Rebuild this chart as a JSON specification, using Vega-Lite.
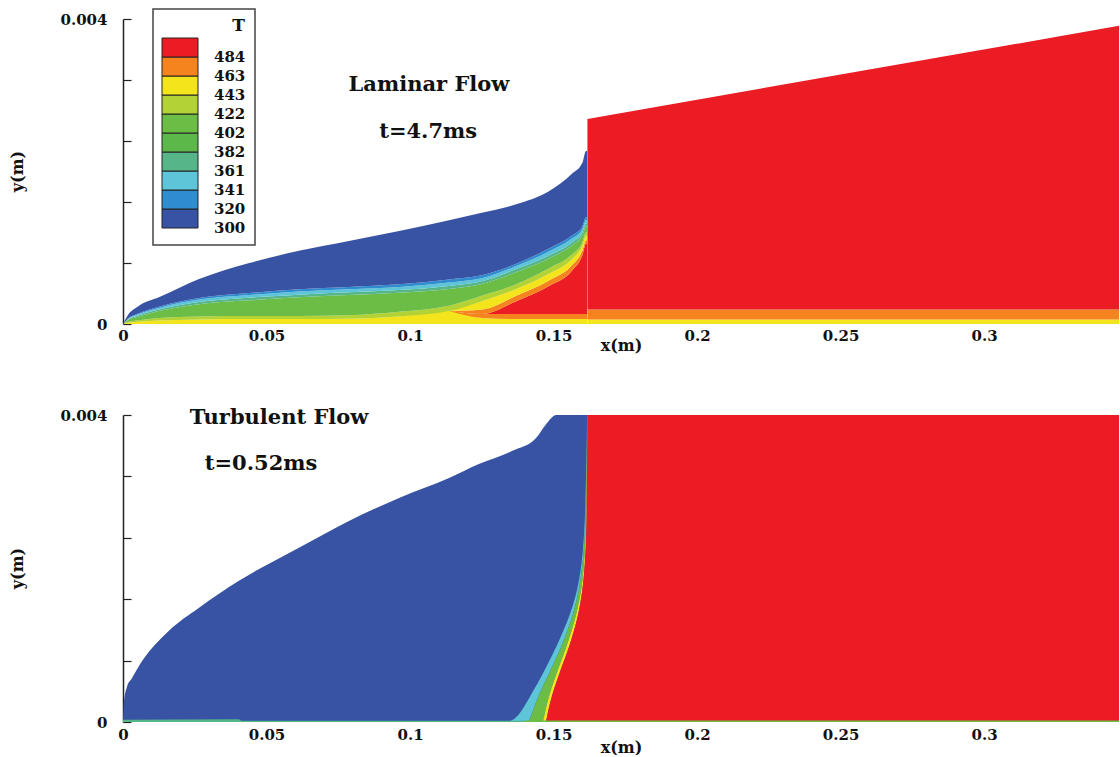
{
"$schema": "https://vega.github.io/schema/vega-lite/v6.json",
"background": "white",
"padding": {"left": 9, "top": 8, "right": 0, "bottom": 0},
"bounds": "flush",
"spacing": 91,
"config": {
  "view": {"stroke": null},
  "font": "DejaVu Serif",
  "axis": {"grid": false, "labelColor": "#111", "titleColor": "#111", "labelFont": "DejaVu Serif", "titleFont": "DejaVu Serif", "labelFontWeight": "bold", "titleFontWeight": "bold"},
  "legend": {"strokeWidth": 1.5}
},
"resolve": {"scale": {"color": "independent"}, "legend": {"color": "independent"}},
"datasets": {
"top": [
{"b":"wy","T":450,"x":0,"lo":0,"hi":0},
{"b":"wy","T":450,"x":0.0014,"lo":0,"hi":0.000015},
{"b":"wy","T":450,"x":0.0056,"lo":0,"hi":0.00003},
{"b":"wy","T":450,"x":0.0125,"lo":0,"hi":0.000045},
{"b":"wy","T":450,"x":0.0265,"lo":0,"hi":0.00006},
{"b":"wy","T":450,"x":0.044,"lo":0,"hi":0.000065},
{"b":"wy","T":450,"x":0.0613,"lo":0,"hi":0.000066},
{"b":"wy","T":450,"x":0.0787,"lo":0,"hi":0.00007},
{"b":"wy","T":450,"x":0.0962,"lo":0,"hi":0.0001},
{"b":"wy","T":450,"x":0.1136,"lo":0,"hi":0.00017},
{"b":"wy","T":450,"x":0.125,"lo":0,"hi":0.00008},
{"b":"wy","T":450,"x":0.137,"lo":0,"hi":0.000066},
{"b":"wy","T":450,"x":0.1484,"lo":0,"hi":0.000066},
{"b":"wy","T":450,"x":0.1564,"lo":0,"hi":0.000066},
{"b":"wy","T":450,"x":0.16,"lo":0,"hi":0.000066},
{"b":"wy","T":450,"x":0.1613,"lo":0,"hi":0.000066},
{"b":"wy","T":450,"x":0.1617,"lo":0,"hi":0.000066},
{"b":"wo","T":472,"x":0.1136,"lo":0.00017,"hi":0.00017},
{"b":"wo","T":472,"x":0.125,"lo":0.00008,"hi":0.00013},
{"b":"wo","T":472,"x":0.137,"lo":0.000066,"hi":0.00013},
{"b":"wo","T":472,"x":0.1484,"lo":0.000066,"hi":0.00013},
{"b":"wo","T":472,"x":0.1564,"lo":0.000066,"hi":0.00013},
{"b":"wo","T":472,"x":0.16,"lo":0.000066,"hi":0.00013},
{"b":"wo","T":472,"x":0.1613,"lo":0.000066,"hi":0.00013},
{"b":"wo","T":472,"x":0.1617,"lo":0.000066,"hi":0.00013},
{"b":"rc","T":495,"x":0.1136,"lo":0.00017,"hi":0.00017},
{"b":"rc","T":495,"x":0.125,"lo":0.00013,"hi":0.00013},
{"b":"rc","T":495,"x":0.137,"lo":0.00013,"hi":0.0003},
{"b":"rc","T":495,"x":0.1484,"lo":0.00013,"hi":0.0005},
{"b":"rc","T":495,"x":0.1564,"lo":0.00013,"hi":0.0007},
{"b":"rc","T":495,"x":0.16,"lo":0.00013,"hi":0.0009},
{"b":"rc","T":495,"x":0.1613,"lo":0.00013,"hi":0.00105},
{"b":"rc","T":495,"x":0.1617,"lo":0.00013,"hi":0.00105},
{"b":"uo","T":472,"x":0.1136,"lo":0.00017,"hi":0.00017},
{"b":"uo","T":472,"x":0.125,"lo":0.00013,"hi":0.00019},
{"b":"uo","T":472,"x":0.137,"lo":0.0003,"hi":0.00037},
{"b":"uo","T":472,"x":0.1484,"lo":0.0005,"hi":0.00057},
{"b":"uo","T":472,"x":0.1564,"lo":0.0007,"hi":0.00077},
{"b":"uo","T":472,"x":0.16,"lo":0.0009,"hi":0.00096},
{"b":"uo","T":472,"x":0.1613,"lo":0.00105,"hi":0.0011},
{"b":"uo","T":472,"x":0.1617,"lo":0.00105,"hi":0.0011},
{"b":"uy","T":452,"x":0.1136,"lo":0.00017,"hi":0.00017},
{"b":"uy","T":452,"x":0.125,"lo":0.00019,"hi":0.0003},
{"b":"uy","T":452,"x":0.137,"lo":0.00037,"hi":0.00046},
{"b":"uy","T":452,"x":0.1484,"lo":0.00057,"hi":0.00066},
{"b":"uy","T":452,"x":0.1564,"lo":0.00077,"hi":0.00085},
{"b":"uy","T":452,"x":0.16,"lo":0.00096,"hi":0.00102},
{"b":"uy","T":452,"x":0.1613,"lo":0.0011,"hi":0.00115},
{"b":"uy","T":452,"x":0.1617,"lo":0.0011,"hi":0.00115},
{"b":"yg","T":432,"x":0,"lo":0,"hi":0},
{"b":"yg","T":432,"x":0.0014,"lo":0.000015,"hi":0.000025},
{"b":"yg","T":432,"x":0.0056,"lo":0.00003,"hi":0.00005},
{"b":"yg","T":432,"x":0.0125,"lo":0.000045,"hi":0.00008},
{"b":"yg","T":432,"x":0.0265,"lo":0.00006,"hi":0.0001},
{"b":"yg","T":432,"x":0.044,"lo":0.000065,"hi":0.000105},
{"b":"yg","T":432,"x":0.0613,"lo":0.000066,"hi":0.000105},
{"b":"yg","T":432,"x":0.0787,"lo":0.00007,"hi":0.000115},
{"b":"yg","T":432,"x":0.0962,"lo":0.0001,"hi":0.00016},
{"b":"yg","T":432,"x":0.1136,"lo":0.00017,"hi":0.00024},
{"b":"yg","T":432,"x":0.125,"lo":0.0003,"hi":0.00037},
{"b":"yg","T":432,"x":0.137,"lo":0.00046,"hi":0.00052},
{"b":"yg","T":432,"x":0.1484,"lo":0.00066,"hi":0.00073},
{"b":"yg","T":432,"x":0.1564,"lo":0.00085,"hi":0.00091},
{"b":"yg","T":432,"x":0.16,"lo":0.00102,"hi":0.00107},
{"b":"yg","T":432,"x":0.1613,"lo":0.00115,"hi":0.0012},
{"b":"yg","T":432,"x":0.1617,"lo":0.00115,"hi":0.0012},
{"b":"gr","T":410,"x":0,"lo":0,"hi":0},
{"b":"gr","T":410,"x":0.0014,"lo":0.000025,"hi":0.000045},
{"b":"gr","T":410,"x":0.0056,"lo":0.00005,"hi":0.0001},
{"b":"gr","T":410,"x":0.0125,"lo":0.00008,"hi":0.00017},
{"b":"gr","T":410,"x":0.0265,"lo":0.0001,"hi":0.00026},
{"b":"gr","T":410,"x":0.044,"lo":0.000105,"hi":0.00031},
{"b":"gr","T":410,"x":0.0613,"lo":0.000105,"hi":0.00035},
{"b":"gr","T":410,"x":0.0787,"lo":0.000115,"hi":0.00038},
{"b":"gr","T":410,"x":0.0962,"lo":0.00016,"hi":0.00041},
{"b":"gr","T":410,"x":0.1136,"lo":0.00024,"hi":0.00046},
{"b":"gr","T":410,"x":0.125,"lo":0.00037,"hi":0.000525},
{"b":"gr","T":410,"x":0.137,"lo":0.00052,"hi":0.00068},
{"b":"gr","T":410,"x":0.1484,"lo":0.00073,"hi":0.00086},
{"b":"gr","T":410,"x":0.1564,"lo":0.00091,"hi":0.00103},
{"b":"gr","T":410,"x":0.16,"lo":0.00107,"hi":0.00116},
{"b":"gr","T":410,"x":0.1613,"lo":0.0012,"hi":0.00128},
{"b":"gr","T":410,"x":0.1617,"lo":0.0012,"hi":0.00128},
{"b":"tg","T":372,"x":0,"lo":0,"hi":0},
{"b":"tg","T":372,"x":0.0014,"lo":0.000045,"hi":0.00005},
{"b":"tg","T":372,"x":0.0056,"lo":0.0001,"hi":0.000115},
{"b":"tg","T":372,"x":0.0125,"lo":0.00017,"hi":0.00019},
{"b":"tg","T":372,"x":0.0265,"lo":0.00026,"hi":0.00029},
{"b":"tg","T":372,"x":0.044,"lo":0.00031,"hi":0.000345},
{"b":"tg","T":372,"x":0.0613,"lo":0.00035,"hi":0.000385},
{"b":"tg","T":372,"x":0.0787,"lo":0.00038,"hi":0.000415},
{"b":"tg","T":372,"x":0.0962,"lo":0.00041,"hi":0.000445},
{"b":"tg","T":372,"x":0.1136,"lo":0.00046,"hi":0.0005},
{"b":"tg","T":372,"x":0.125,"lo":0.000525,"hi":0.00056},
{"b":"tg","T":372,"x":0.137,"lo":0.00068,"hi":0.00072},
{"b":"tg","T":372,"x":0.1484,"lo":0.00086,"hi":0.0009},
{"b":"tg","T":372,"x":0.1564,"lo":0.00103,"hi":0.00107},
{"b":"tg","T":372,"x":0.16,"lo":0.00116,"hi":0.0012},
{"b":"tg","T":372,"x":0.1613,"lo":0.00128,"hi":0.00132},
{"b":"tg","T":372,"x":0.1617,"lo":0.00128,"hi":0.00132},
{"b":"lc","T":350,"x":0,"lo":0,"hi":0},
{"b":"lc","T":350,"x":0.0014,"lo":0.00005,"hi":0.000055},
{"b":"lc","T":350,"x":0.0056,"lo":0.000115,"hi":0.00013},
{"b":"lc","T":350,"x":0.0125,"lo":0.00019,"hi":0.00021},
{"b":"lc","T":350,"x":0.0265,"lo":0.00029,"hi":0.00032},
{"b":"lc","T":350,"x":0.044,"lo":0.000345,"hi":0.00038},
{"b":"lc","T":350,"x":0.0613,"lo":0.000385,"hi":0.000425},
{"b":"lc","T":350,"x":0.0787,"lo":0.000415,"hi":0.000455},
{"b":"lc","T":350,"x":0.0962,"lo":0.000445,"hi":0.000485},
{"b":"lc","T":350,"x":0.1136,"lo":0.0005,"hi":0.000545},
{"b":"lc","T":350,"x":0.125,"lo":0.00056,"hi":0.0006},
{"b":"lc","T":350,"x":0.137,"lo":0.00072,"hi":0.00076},
{"b":"lc","T":350,"x":0.1484,"lo":0.0009,"hi":0.00095},
{"b":"lc","T":350,"x":0.1564,"lo":0.00107,"hi":0.00112},
{"b":"lc","T":350,"x":0.16,"lo":0.0012,"hi":0.00124},
{"b":"lc","T":350,"x":0.1613,"lo":0.00132,"hi":0.00136},
{"b":"lc","T":350,"x":0.1617,"lo":0.00132,"hi":0.00136},
{"b":"cb","T":330,"x":0,"lo":0,"hi":0},
{"b":"cb","T":330,"x":0.0014,"lo":0.000055,"hi":0.00006},
{"b":"cb","T":330,"x":0.0056,"lo":0.00013,"hi":0.00014},
{"b":"cb","T":330,"x":0.0125,"lo":0.00021,"hi":0.000225},
{"b":"cb","T":330,"x":0.0265,"lo":0.00032,"hi":0.00034},
{"b":"cb","T":330,"x":0.044,"lo":0.00038,"hi":0.000405},
{"b":"cb","T":330,"x":0.0613,"lo":0.000425,"hi":0.000455},
{"b":"cb","T":330,"x":0.0787,"lo":0.000455,"hi":0.000485},
{"b":"cb","T":330,"x":0.0962,"lo":0.000485,"hi":0.00052},
{"b":"cb","T":330,"x":0.1136,"lo":0.000545,"hi":0.000585},
{"b":"cb","T":330,"x":0.125,"lo":0.0006,"hi":0.00064},
{"b":"cb","T":330,"x":0.137,"lo":0.00076,"hi":0.00079},
{"b":"cb","T":330,"x":0.1484,"lo":0.00095,"hi":0.00099},
{"b":"cb","T":330,"x":0.1564,"lo":0.00112,"hi":0.00116},
{"b":"cb","T":330,"x":0.16,"lo":0.00124,"hi":0.00128},
{"b":"cb","T":330,"x":0.1613,"lo":0.00136,"hi":0.0014},
{"b":"cb","T":330,"x":0.1617,"lo":0.00136,"hi":0.0014},
{"b":"bl","T":310,"x":0,"lo":0,"hi":0},
{"b":"bl","T":310,"x":0.0014,"lo":0.00006,"hi":0.0001},
{"b":"bl","T":310,"x":0.0056,"lo":0.00014,"hi":0.00024},
{"b":"bl","T":310,"x":0.0125,"lo":0.000225,"hi":0.00035},
{"b":"bl","T":310,"x":0.0265,"lo":0.00034,"hi":0.00059},
{"b":"bl","T":310,"x":0.044,"lo":0.000405,"hi":0.0008},
{"b":"bl","T":310,"x":0.0613,"lo":0.000455,"hi":0.00096},
{"b":"bl","T":310,"x":0.0787,"lo":0.000485,"hi":0.00109},
{"b":"bl","T":310,"x":0.0962,"lo":0.00052,"hi":0.00122},
{"b":"bl","T":310,"x":0.1136,"lo":0.000585,"hi":0.00136},
{"b":"bl","T":310,"x":0.125,"lo":0.00064,"hi":0.00146},
{"b":"bl","T":310,"x":0.137,"lo":0.00079,"hi":0.00157},
{"b":"bl","T":310,"x":0.1484,"lo":0.00099,"hi":0.00174},
{"b":"bl","T":310,"x":0.1564,"lo":0.00116,"hi":0.00197},
{"b":"bl","T":310,"x":0.16,"lo":0.00128,"hi":0.00211},
{"b":"bl","T":310,"x":0.1613,"lo":0.0014,"hi":0.00227},
{"b":"bl","T":310,"x":0.1617,"lo":0.0014,"hi":0.00227},
{"b":"wyB","T":450,"x":0.1618,"lo":0,"hi":0.00006},
{"b":"wyB","T":450,"x":0.347,"lo":0,"hi":0.00006},
{"b":"woB","T":472,"x":0.1618,"lo":0.00006,"hi":0.00019},
{"b":"woB","T":472,"x":0.347,"lo":0.00006,"hi":0.00019},
{"b":"rcB","T":495,"x":0.1618,"lo":0.00019,"hi":0.00269},
{"b":"rcB","T":495,"x":0.347,"lo":0.00019,"hi":0.00391}
],
"bv": [
{"b":"bl","T":310,"x":0,"lo":0,"hi":0},
{"b":"bl","T":310,"x":0.0003,"lo":0,"hi":0.00025},
{"b":"bl","T":310,"x":0.0014,"lo":0,"hi":0.00046},
{"b":"bl","T":310,"x":0.0031,"lo":0,"hi":0.00057},
{"b":"bl","T":310,"x":0.0066,"lo":0,"hi":0.00079},
{"b":"bl","T":310,"x":0.016,"lo":0,"hi":0.00119},
{"b":"bl","T":310,"x":0.0265,"lo":0,"hi":0.00149},
{"b":"bl","T":310,"x":0.0404,"lo":0,"hi":0.00184},
{"b":"bl","T":310,"x":0.0613,"lo":0,"hi":0.00227},
{"b":"bl","T":310,"x":0.0787,"lo":0,"hi":0.00262},
{"b":"bl","T":310,"x":0.0962,"lo":0,"hi":0.00292},
{"b":"bl","T":310,"x":0.1136,"lo":0,"hi":0.00318},
{"b":"bl","T":310,"x":0.124,"lo":0,"hi":0.00336},
{"b":"bl","T":310,"x":0.1355,"lo":0,"hi":0.00353},
{"b":"bl","T":310,"x":0.1439,"lo":0,"hi":0.0037},
{"b":"bl","T":310,"x":0.1474,"lo":0,"hi":0.00388},
{"b":"bl","T":310,"x":0.1509,"lo":0,"hi":0.004},
{"b":"bl","T":310,"x":0.1617,"lo":0,"hi":0.004},
{"b":"s1","T":372,"x":0,"lo":0,"hi":0.00003},
{"b":"s1","T":372,"x":0.0404,"lo":0,"hi":0.000035},
{"b":"s1","T":372,"x":0.0412,"lo":0,"hi":0.000015},
{"b":"s1","T":372,"x":0.14,"lo":0,"hi":0.000015},
{"b":"s2","T":410,"x":0.14,"lo":0,"hi":0.00002},
{"b":"s2","T":410,"x":0.347,"lo":0,"hi":0.00002}
],
"bh": [
{"b":"c","T":350,"y":0,"xl":0.134,"xr":0.1412},
{"b":"c","T":350,"y":0.00005,"xl":0.1375,"xr":0.142},
{"b":"c","T":350,"y":0.00031,"xl":0.1415,"xr":0.1443},
{"b":"c","T":350,"y":0.000625,"xl":0.1463,"xr":0.1484},
{"b":"c","T":350,"y":0.00096,"xl":0.1508,"xr":0.1526},
{"b":"c","T":350,"y":0.00141,"xl":0.1561,"xr":0.1571},
{"b":"c","T":350,"y":0.00184,"xl":0.1592,"xr":0.1596},
{"b":"c","T":350,"y":0.00249,"xl":0.1611,"xr":0.1613},
{"b":"c","T":350,"y":0.004,"xl":0.1617,"xr":0.1617},
{"b":"g","T":410,"y":0,"xl":0.1412,"xr":0.1462},
{"b":"g","T":410,"y":0.00005,"xl":0.142,"xr":0.1466},
{"b":"g","T":410,"y":0.00031,"xl":0.1443,"xr":0.1481},
{"b":"g","T":410,"y":0.000625,"xl":0.1484,"xr":0.1509},
{"b":"g","T":410,"y":0.00096,"xl":0.1526,"xr":0.1544},
{"b":"g","T":410,"y":0.00141,"xl":0.1571,"xr":0.1582},
{"b":"g","T":410,"y":0.00184,"xl":0.1596,"xr":0.1603},
{"b":"g","T":410,"y":0.00249,"xl":0.1613,"xr":0.1615},
{"b":"g","T":410,"y":0.004,"xl":0.1617,"xr":0.1617},
{"b":"y","T":452,"y":0,"xl":0.1462,"xr":0.1474},
{"b":"y","T":452,"y":0.00005,"xl":0.1466,"xr":0.1476},
{"b":"y","T":452,"y":0.00031,"xl":0.1481,"xr":0.1491},
{"b":"y","T":452,"y":0.000625,"xl":0.1509,"xr":0.1519},
{"b":"y","T":452,"y":0.00096,"xl":0.1544,"xr":0.1554},
{"b":"y","T":452,"y":0.00141,"xl":0.1582,"xr":0.1589},
{"b":"y","T":452,"y":0.00184,"xl":0.1603,"xr":0.1606},
{"b":"y","T":452,"y":0.00249,"xl":0.1615,"xr":0.1617},
{"b":"y","T":452,"y":0.004,"xl":0.1617,"xr":0.1617},
{"b":"r","T":495,"y":0,"xl":0.1474,"xr":0.347},
{"b":"r","T":495,"y":0.00005,"xl":0.1476,"xr":0.347},
{"b":"r","T":495,"y":0.00031,"xl":0.1491,"xr":0.347},
{"b":"r","T":495,"y":0.000625,"xl":0.1519,"xr":0.347},
{"b":"r","T":495,"y":0.00096,"xl":0.1554,"xr":0.347},
{"b":"r","T":495,"y":0.00141,"xl":0.1589,"xr":0.347},
{"b":"r","T":495,"y":0.00184,"xl":0.1606,"xr":0.347},
{"b":"r","T":495,"y":0.00249,"xl":0.1617,"xr":0.347},
{"b":"r","T":495,"y":0.004,"xl":0.1617,"xr":0.347}
]
},
"vconcat": [
{
  "width": 996, "height": 305,
  "layer": [
    {
      "data": {"name": "top"},
      "mark": {"type": "area", "interpolate": "monotone", "orient": "vertical"},
      "encoding": {
        "x": {"field": "x", "type": "quantitative", "title": "x(m)", "scale": {"domain": [0, 0.347], "nice": false, "zero": false},
              "axis": {"title": "x(m)", "values": [0, 0.05, 0.1, 0.15, 0.2, 0.25, 0.3], "format": "~g", "domain": false, "ticks": false, "labelPadding": 4, "labelFontSize": 15, "titleFontSize": 16, "titleY": 21, "titleBaseline": "middle", "labelFlush": false}},
        "y": {"field": "hi", "type": "quantitative", "title": "y(m)", "stack": null, "scale": {"domain": [0, 0.004], "nice": false},
              "axis": {"title": "y(m)", "values": [0, 0.0004, 0.0008, 0.0012, 0.0016, 0.002, 0.0024, 0.0028, 0.0032, 0.0036, 0.004],
                       "labelExpr": "abs(datum.value) < 1e-9 ? '0' : abs(datum.value - 0.002) < 1e-9 ? '0.002' : abs(datum.value - 0.004) < 1e-9 ? '0.004' : ''",
                       "tickSize": -8, "tickWidth": 1.2, "tickColor": "#222", "domainColor": "#222", "domainWidth": 1.5, "labelPadding": 24, "labelFontSize": 15, "titleFontSize": 16, "titleX": -106, "titleY": 152, "titleBaseline": "middle", "labelFlush": false, "labelOverlap": false}},
        "y2": {"field": "lo"},
        "color": {"field": "T", "type": "quantitative",
                  "scale": {"type": "quantize", "domain": [300, 504], "range": ["#3953a4", "#2e8ccf", "#5ec4d8", "#56b68a", "#5cb848", "#6cbd45", "#b2d235", "#f4e41c", "#f5841f", "#ec1c24"]},
                  "legend": {"type": "gradient", "orient": "none", "legendX": 30, "legendY": -10, "direction": "vertical", "title": "T", "titleAnchor": "end", "titleFont": "DejaVu Serif", "titleFontSize": 17, "titleFontWeight": "bold", "titleColor": "#111", "titlePadding": 3, "gradientLength": 190, "gradientThickness": 36, "gradientStrokeColor": "#222", "gradientStrokeWidth": 1, "labelFont": "DejaVu Serif", "labelFontSize": 15, "labelFontWeight": "bold", "labelColor": "#111", "labelOffset": 16, "labelOverlap": false, "labelExpr": "datum.value > 500 ? '' : datum.value < 300 ? '300' : format(datum.value, 'd')", "padding": 9, "strokeColor": "#444", "fillColor": "white",
                             "encoding": {"labels": {"baseline": {"value": "middle"}}}}},
        "detail": {"field": "b", "type": "nominal"}
      }
    },
    {
      "data": {"values": [{"t": "Laminar Flow"}]},
      "mark": {"type": "text", "font": "DejaVu Serif", "fontWeight": "bold", "fontSize": 21, "color": "#111", "align": "center", "baseline": "middle"},
      "encoding": {"text": {"field": "t"}, "x": {"datum": 0.1066}, "y": {"datum": 0.00313}}
    },
    {
      "data": {"values": [{"t": "t=4.7ms"}]},
      "mark": {"type": "text", "font": "DejaVu Serif", "fontWeight": "bold", "fontSize": 21, "color": "#111", "align": "center", "baseline": "middle"},
      "encoding": {"text": {"field": "t"}, "x": {"datum": 0.1063}, "y": {"datum": 0.00252}}
    }
  ]
},
{
  "width": 996, "height": 307,
  "layer": [
    {
      "data": {"name": "bv"},
      "transform": [{"filter": "datum.b == 'bl'"}],
      "mark": {"type": "area", "interpolate": "monotone", "orient": "vertical"},
      "encoding": {
        "x": {"field": "x", "type": "quantitative", "title": "x(m)", "scale": {"domain": [0, 0.347], "nice": false, "zero": false},
              "axis": {"title": "x(m)", "values": [0, 0.05, 0.1, 0.15, 0.2, 0.25, 0.3], "format": "~g", "domain": false, "ticks": false, "labelPadding": 5, "labelFontSize": 15, "titleFontSize": 16, "titleY": 25, "titleBaseline": "middle", "labelFlush": false}},
        "y": {"field": "hi", "type": "quantitative", "title": "y(m)", "stack": null, "scale": {"domain": [0, 0.004], "nice": false},
              "axis": {"title": "y(m)", "values": [0, 0.0004, 0.0008, 0.0012, 0.0016, 0.002, 0.0024, 0.0028, 0.0032, 0.0036, 0.004],
                       "labelExpr": "abs(datum.value) < 1e-9 ? '0' : abs(datum.value - 0.002) < 1e-9 ? '0.002' : abs(datum.value - 0.004) < 1e-9 ? '0.004' : ''",
                       "tickSize": -8, "tickWidth": 1.2, "tickColor": "#222", "domainColor": "#222", "domainWidth": 1.5, "labelPadding": 24, "labelFontSize": 15, "titleFontSize": 16, "titleX": -106, "titleY": 153, "titleBaseline": "middle", "labelFlush": false, "labelOverlap": false}},
        "y2": {"field": "lo"},
        "color": {"field": "T", "type": "quantitative",
                  "scale": {"type": "quantize", "domain": [300, 504], "range": ["#3953a4", "#2e8ccf", "#5ec4d8", "#56b68a", "#5cb848", "#6cbd45", "#b2d235", "#f4e41c", "#f5841f", "#ec1c24"]},
                  "legend": null},
        "detail": {"field": "b", "type": "nominal"}
      }
    },
    {
      "data": {"name": "bh"},
      "mark": {"type": "area", "interpolate": "basis", "orient": "horizontal"},
      "encoding": {
        "y": {"field": "y", "type": "quantitative", "title": "y(m)"},
        "x": {"field": "xl", "type": "quantitative", "title": "x(m)", "stack": null},
        "x2": {"field": "xr"},
        "color": {"field": "T", "type": "quantitative",
                  "scale": {"type": "quantize", "domain": [300, 504], "range": ["#3953a4", "#2e8ccf", "#5ec4d8", "#56b68a", "#5cb848", "#6cbd45", "#b2d235", "#f4e41c", "#f5841f", "#ec1c24"]},
                  "legend": null},
        "detail": {"field": "b", "type": "nominal"}
      }
    },
    {
      "data": {"name": "bv"},
      "transform": [{"filter": "datum.b != 'bl'"}],
      "mark": {"type": "area", "interpolate": "linear", "orient": "vertical"},
      "encoding": {
        "x": {"field": "x", "type": "quantitative", "title": "x(m)"},
        "y": {"field": "hi", "type": "quantitative", "title": "y(m)", "stack": null},
        "y2": {"field": "lo"},
        "color": {"field": "T", "type": "quantitative",
                  "scale": {"type": "quantize", "domain": [300, 504], "range": ["#3953a4", "#2e8ccf", "#5ec4d8", "#56b68a", "#5cb848", "#6cbd45", "#b2d235", "#f4e41c", "#f5841f", "#ec1c24"]},
                  "legend": null},
        "detail": {"field": "b", "type": "nominal"}
      }
    },
    {
      "data": {"values": [{"t": "Turbulent Flow"}]},
      "mark": {"type": "text", "font": "DejaVu Serif", "fontWeight": "bold", "fontSize": 21, "color": "#111", "align": "center", "baseline": "middle"},
      "encoding": {"text": {"field": "t"}, "x": {"datum": 0.0544}, "y": {"datum": 0.00396}}
    },
    {
      "data": {"values": [{"t": "t=0.52ms"}]},
      "mark": {"type": "text", "font": "DejaVu Serif", "fontWeight": "bold", "fontSize": 21, "color": "#111", "align": "center", "baseline": "middle"},
      "encoding": {"text": {"field": "t"}, "x": {"datum": 0.0481}, "y": {"datum": 0.00336}}
    }
  ]
}
]
}
